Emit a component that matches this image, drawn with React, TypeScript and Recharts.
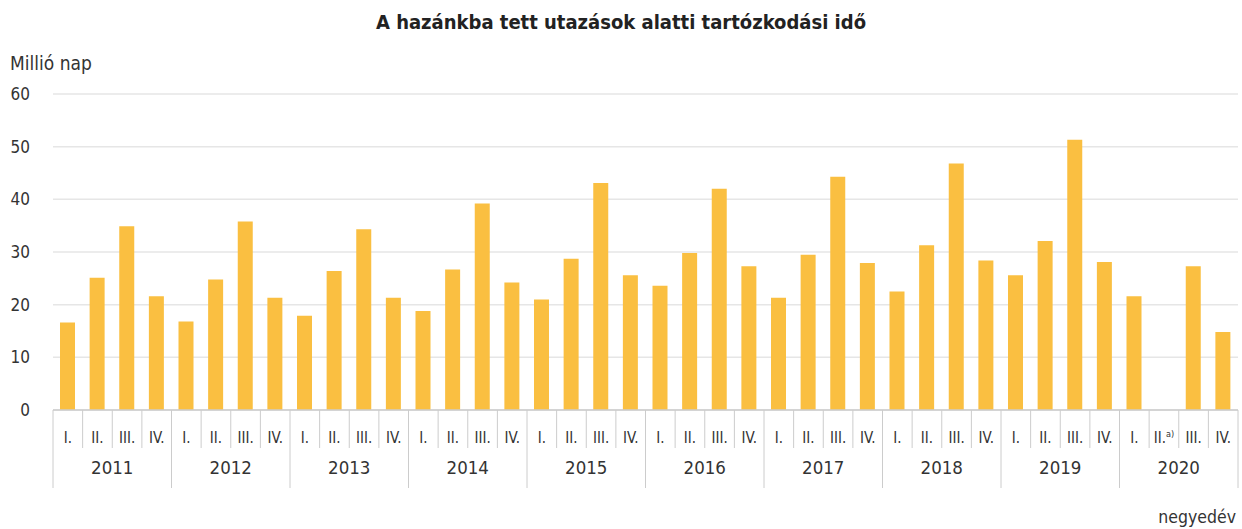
import React from 'react';
import { BarChart, Bar, XAxis, YAxis, CartesianGrid } from 'recharts';

const years = ['2011', '2012', '2013', '2014', '2015', '2016', '2017', '2018', '2019', '2020'];
const quarterLabels = ['I.', 'II.', 'III.', 'IV.'];
const yTicks = [0, 10, 20, 30, 40, 50, 60];

// millió nap, negyedévenként (2020 II. nincs adat)
const q1Values = [16.6, 16.8, 17.9, 18.8, 21.0, 23.6, 21.3, 22.5, 25.6, 21.6];
const q2Values = [25.1, 24.8, 26.4, 26.7, 28.7, 29.8, 29.5, 31.3, 32.1, null];
const q3Values = [34.9, 35.8, 34.3, 39.2, 43.1, 42.0, 44.3, 46.8, 51.3, 27.3];
const q4Values = [21.6, 21.3, 21.3, 24.2, 25.6, 27.3, 27.9, 28.4, 28.1, 14.8];

const FONT = "'DejaVu Sans Condensed', 'DejaVu Sans', sans-serif";
const TEXT = '#333333';
const LINE = '#cccccc';

const quarterSeries = [q1Values, q2Values, q3Values, q4Values];
const data = years.flatMap((year, yi) =>
    quarterLabels.map((q, qi) => ({
        key: `${year}-${qi + 1}`,
        year,
        quarter: q,
        note: year === '2020' && qi === 1 ? 'a)' : '',
        value: quarterSeries[qi][yi],
    }))
);

const QuarterTick = (props: any) => {
    const { x, y, payload, index } = props;
    const half = payload.offset || 0;
    const row = data[index];
    const left = x - half;
    const right = x + half;
    const isYearStart = index % 4 === 0;
    const isLast = index === data.length - 1;
    return (
        <g>
            <line x1={left} y1={y} x2={left} y2={isYearStart ? y + 78 : y + 38} stroke={LINE} strokeWidth={1} />
            {isLast && <line x1={right} y1={y} x2={right} y2={y + 78} stroke={LINE} strokeWidth={1} />}
            <text x={x} y={y + 33} textAnchor="middle" fontFamily={FONT} fontSize={15} fill={TEXT}>
                {row.quarter}
                {row.note && (
                    <tspan fontSize={9} dy={-6}>
                        {row.note}
                    </tspan>
                )}
            </text>
            {isYearStart && (
                <text x={x + 3 * half} y={y + 64} textAnchor="middle" fontFamily={FONT} fontSize={18.5} fill={TEXT}>
                    {row.year}
                </text>
            )}
        </g>
    );
};

const App: React.FC = () => {
    return (
        <div style={{ position: 'absolute', left: 0, top: 0, width: 1242, height: 529, background: '#ffffff' }}>
            <div
                style={{
                    position: 'absolute',
                    left: 0,
                    top: 10,
                    width: 1242,
                    textAlign: 'center',
                    fontFamily: FONT,
                    fontWeight: 'bold',
                    fontSize: 20,
                    color: '#222222',
                }}
            >
                A hazánkba tett utazások alatti tartózkodási idő
            </div>
            <div style={{ position: 'absolute', left: 10, top: 52, fontFamily: FONT, fontSize: 19, color: TEXT }}>
                Millió nap
            </div>
            <div style={{ position: 'absolute', right: 6, top: 507, fontFamily: FONT, fontSize: 17.5, color: TEXT }}>
                negyedév
            </div>
            <BarChart
                width={1242}
                height={529}
                data={data}
                margin={{ top: 94, right: 4, bottom: 39, left: 0 }}
                barSize={15}
                style={{ position: 'absolute', left: 0, top: 0 }}
            >
                <CartesianGrid vertical={false} stroke="#e6e6e6" strokeWidth={1.5} />
                <XAxis
                    dataKey="key"
                    interval={0}
                    height={80}
                    axisLine={{ stroke: LINE, strokeWidth: 1.5 }}
                    tickLine={false}
                    tickSize={0}
                    tickMargin={0}
                    tick={<QuarterTick />}
                />
                <YAxis
                    domain={[0, 60]}
                    ticks={yTicks}
                    width={53}
                    axisLine={false}
                    tickLine={false}
                    tickSize={0}
                    tickMargin={23}
                    tick={{ fontFamily: FONT, fontSize: 17, fill: TEXT }}
                />
                <Bar dataKey="value" fill="#FABF41" isAnimationActive={false} />
            </BarChart>
        </div>
    );
};

export default App;
